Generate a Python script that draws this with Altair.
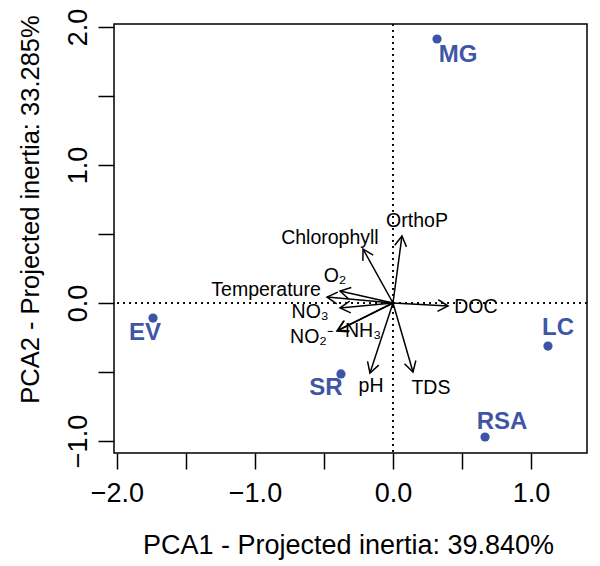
import altair as alt
import pandas as pd
import numpy as np

# Sites (row scores)
sites = ["MG", "EV", "SR", "LC", "RSA"]
site_x = [0.319, -1.739, -0.377, 1.123, 0.667]
site_y = [1.913, -0.109, -0.514, -0.312, -0.971]
site_lab_x = [0.471, -1.797, -0.486, 1.196, 0.790]
site_lab_y = [1.797, -0.217, -0.616, -0.181, -0.862]

# Variables (arrows)
variables = ["OrthoP", "Chlorophyll", "O₂", "Temperature", "NO₃", "NO₂⁻", "NH₃", "pH", "TDS", "DOC"]
var_x = [0.065, -0.217, -0.384, -0.478, -0.384, -0.406, -0.400, -0.167, 0.145, 0.399]
var_y = [0.486, 0.391, 0.087, 0.043, -0.036, -0.203, -0.198, -0.507, -0.500, -0.022]
var_lab_x = [0.174, -0.457, -0.420, -0.920, -0.600, -0.587, -0.217, -0.159, 0.275, 0.600]
var_lab_y = [0.594, 0.471, 0.196, 0.094, -0.065, -0.246, -0.203, -0.600, -0.616, -0.030]

x_ticks = [-2.0, -1.5, -1.0, -0.5, 0.0, 0.5, 1.0]
y_ticks = [-1.0, -0.5, 0.0, 0.5, 1.0, 1.5, 2.0]
x_title = "PCA1 - Projected inertia: 39.840%"
y_title = "PCA2 - Projected inertia: 33.285%"

x_domain = [-2.0217, 1.4058]
y_domain = [-1.087, 2.0217]

sites_df = pd.DataFrame({"site": sites, "x": site_x, "y": site_y,
                         "lx": site_lab_x, "ly": site_lab_y})
vars_df = pd.DataFrame({"var": variables, "x": var_x, "y": var_y,
                        "lx": var_lab_x, "ly": var_lab_y})
vars_df["ox"] = 0.0
vars_df["oy"] = 0.0
vars_df["ang"] = (np.degrees(np.arctan2(vars_df["x"], vars_df["y"])) + 360) % 360

FONT = "Liberation Sans"
BLUE = "#3B54A5"

xs = alt.Scale(domain=x_domain, nice=False, zero=False)
ys = alt.Scale(domain=y_domain, nice=False, zero=False)

x_axis = alt.Axis(values=x_ticks, title=x_title, grid=False, domain=False,
                  tickSize=16, tickWidth=1.5, tickColor="black",
                  labelExpr="datum.value % 1 == 0 ? format(datum.value, '.1f') : ''",
                  labelFont=FONT, labelFontSize=27, labelColor="black",
                  labelPadding=11, labelBaseline="top", labelFlush=False,
                  titleFont=FONT, titleFontSize=27, titleFontWeight="normal",
                  titleColor="black", titleX=234, titleY=92,
                  titleAlign="center", titleBaseline="middle")
y_axis = alt.Axis(values=y_ticks, title=y_title, grid=False, domain=False,
                  tickSize=16, tickWidth=1.5, tickColor="black",
                  labelExpr="datum.value % 1 == 0 ? format(datum.value, '.1f') : ''",
                  labelFont=FONT, labelFontSize=27, labelColor="black",
                  labelAngle=270, labelAlign="center", labelBaseline="bottom",
                  labelPadding=6, labelFlush=False,
                  titleFont=FONT, titleFontSize=25.5, titleFontWeight="normal",
                  titleColor="black", titleAngle=270, titleX=-84, titleY=185,
                  titleAlign="center", titleBaseline="middle")

base_axes = alt.Chart(sites_df).mark_point(opacity=0).encode(
    x=alt.X("x:Q", scale=xs, axis=x_axis),
    y=alt.Y("y:Q", scale=ys, axis=y_axis),
)

hline = alt.Chart(sites_df).mark_rule(color="black", strokeDash=[1.5, 4.5], strokeWidth=1.5).encode(
    y=alt.datum(0, scale=ys)
)
vline = alt.Chart(sites_df).mark_rule(color="black", strokeDash=[1.5, 4.5], strokeWidth=1.5).encode(
    x=alt.datum(0, scale=xs)
)

arrows = alt.Chart(vars_df).mark_rule(color="black", strokeWidth=1.5).encode(
    x=alt.X("ox:Q", scale=xs), y=alt.Y("oy:Q", scale=ys),
    x2="x:Q", y2="y:Q"
)
heads = alt.Chart(vars_df).mark_point(
    shape="M -0.5 0.866 L 0 0 L 0.5 0.866", filled=False, stroke="black",
    strokeWidth=1.5, size=560, opacity=1
).encode(
    x=alt.X("x:Q", scale=xs), y=alt.Y("y:Q", scale=ys),
    angle=alt.Angle("ang:Q", scale=None)
)
var_labels = alt.Chart(vars_df).mark_text(
    font=FONT, fontSize=19.5, color="black", align="center", baseline="middle"
).encode(
    x=alt.X("lx:Q", scale=xs), y=alt.Y("ly:Q", scale=ys), text="var:N"
)

pts = alt.Chart(sites_df).mark_circle(size=85, color=BLUE, opacity=1).encode(
    x=alt.X("x:Q", scale=xs), y=alt.Y("y:Q", scale=ys)
)
site_labels = alt.Chart(sites_df).mark_text(
    font=FONT, fontSize=24, fontWeight="bold", color="#3F56A6",
    align="center", baseline="middle"
).encode(
    x=alt.X("lx:Q", scale=xs), y=alt.Y("ly:Q", scale=ys), text="site:N"
)

chart = alt.layer(base_axes, hline, vline, arrows, heads, var_labels, pts, site_labels).properties(
    width=473, height=429,
    autosize="none",
    padding={"left": 106, "top": 16, "right": 5, "bottom": 112},
).configure_view(stroke="black", strokeWidth=1.5)

chart.save("out.html", embed_options={"renderer": "svg", "actions": False})
